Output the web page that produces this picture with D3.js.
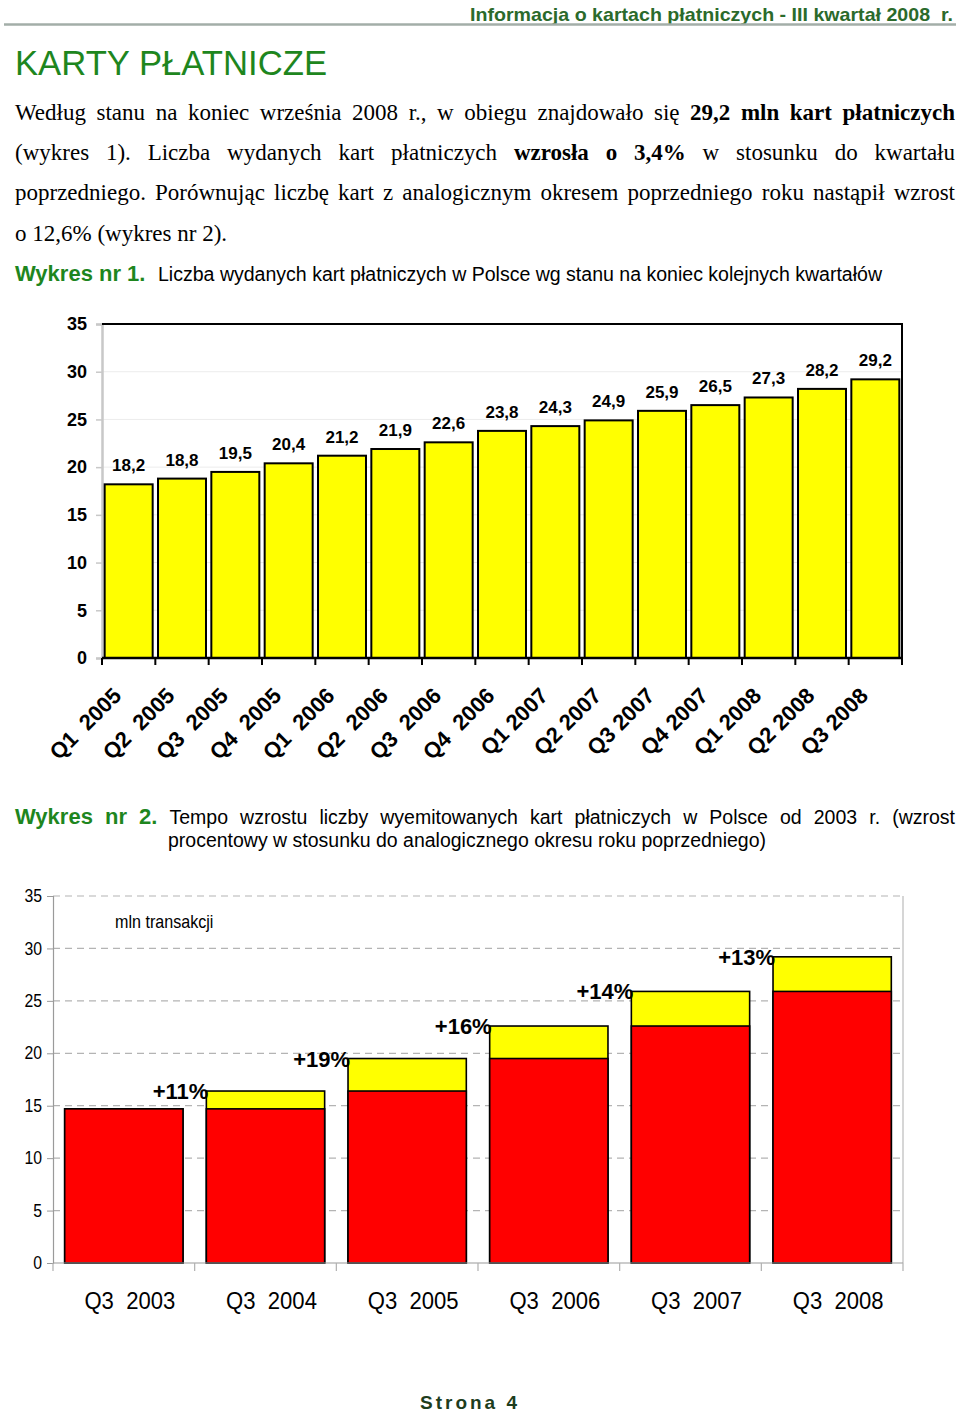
<!DOCTYPE html>
<html><head><meta charset="utf-8">
<script src="https://cdn.jsdelivr.net/npm/d3@7"></script>
<style>
html,body{margin:0;padding:0;background:#fff;}
svg{display:block;}
text{white-space:pre;}
</style></head>
<body>
<svg id="page" width="960" height="1417"></svg>
<script>
// ---- DATA ----
const quarters = ["Q1  2005","Q2  2005","Q3  2005","Q4  2005","Q1  2006","Q2  2006","Q3  2006","Q4  2006","Q1 2007","Q2 2007","Q3 2007","Q4 2007","Q1 2008","Q2 2008","Q3 2008"];
const cards = [18.2,18.8,19.5,20.4,21.2,21.9,22.6,23.8,24.3,24.9,25.9,26.5,27.3,28.2,29.2];
const cardLabels = ["18,2","18,8","19,5","20,4","21,2","21,9","22,6","23,8","24,3","24,9","25,9","26,5","27,3","28,2","29,2"];
const years2 = ["Q3  2003","Q3  2004","Q3  2005","Q3  2006","Q3  2007","Q3  2008"];
const prevTotal = [14.7,14.7,16.4,19.5,22.6,25.9];   // red part (previous year level)
const total2 = [14.7,16.4,19.5,22.6,25.9,29.2];      // bar top
const pctLabels = ["","+11%","+19%","+16%","+14%","+13%"];
const yTicks = [0,5,10,15,20,25,30,35];

const svg = d3.select("#page");
const SANS = "'Liberation Sans', Arial, sans-serif";
const SERIF = "'Liberation Serif','Times New Roman', serif";
const GREEN = "#1e861e";

function narrow(sel, f){
  sel.each(function(){ const w=this.getComputedTextLength(); d3.select(this).attr("textLength",w*f).attr("lengthAdjust","spacingAndGlyphs"); });
  return sel;
}
function fitW(sel, w){ return sel.attr("textLength",w).attr("lengthAdjust","spacingAndGlyphs"); }

// ---- header ----
fitW(svg.append("text").attr("x",953).attr("y",21).attr("text-anchor","end")
  .attr("font-family",SANS).attr("font-weight","bold").attr("font-size",19).attr("fill","#2b6a2b")
  .text("Informacja o kartach płatniczych - III kwartał 2008  r."),483);
svg.append("line").attr("x1",4).attr("x2",956).attr("y1",24.5).attr("y2",24.5).attr("stroke","#a3aea8").attr("stroke-width",2.5);
fitW(svg.append("text").attr("x",15).attr("y",75).attr("font-family",SANS).attr("font-size",35).attr("fill",GREEN)
  .text("KARTY PŁATNICZE"),312);

// ---- justified line helper ----
function justLine(segs, x0, x1, y, opts){
  const words=[];
  segs.forEach(s=>s.t.split(" ").filter(w=>w.length).forEach(w=>words.push({w, b:s.b, c:s.c, fs:s.fs, ff:s.ff})));
  const g=svg.append("g");
  const nodes=words.map(d=>g.append("text").attr("y",y).attr("font-family",d.ff||opts.ff).attr("font-size",d.fs||opts.fs)
     .attr("font-weight",d.b?"bold":"normal").attr("fill",d.c||"#000").text(d.w));
  const widths=nodes.map(n=>n.node().getComputedTextLength());
  const sum=d3.sum(widths);
  let gap = opts.justify ? (x1-x0-sum)/(words.length-1) : opts.space;
  let x=x0;
  nodes.forEach((n,i)=>{n.attr("x",x); x+=widths[i]+gap;});
}
const P={ff:SERIF, fs:23, justify:true};
justLine([{t:"Według stanu na koniec września 2008 r., w obiegu znajdowało się"},{t:"29,2 mln kart płatniczych",b:true}],15,955,120,P);
justLine([{t:"(wykres 1). Liczba wydanych kart płatniczych"},{t:"wzrosła o 3,4%",b:true},{t:"w stosunku do kwartału"}],15,955,160,P);
justLine([{t:"poprzedniego. Porównując liczbę kart z analogicznym okresem poprzedniego roku nastąpił wzrost"}],15,955,200,P);
justLine([{t:"o 12,6% (wykres nr 2)."}],15,955,241,{ff:SERIF,fs:23,justify:false,space:5.75});

svg.append("text").attr("x",15).attr("y",281).attr("font-family",SANS).attr("font-size",22).attr("font-weight","bold").attr("fill",GREEN).text("Wykres nr 1.");
fitW(svg.append("text").attr("x",158).attr("y",281).attr("font-family",SANS).attr("font-size",19.5).text("Liczba wydanych kart płatniczych w Polsce wg stanu na koniec kolejnych kwartałów"),724);

justLine([{t:"Wykres nr 2.",b:true,c:GREEN,fs:22,ff:SANS},{t:"Tempo wzrostu liczby wyemitowanych kart płatniczych w Polsce od 2003 r. (wzrost"}],15,955,824,{ff:SANS,fs:19.5,justify:true});
fitW(svg.append("text").attr("x",168).attr("y",847).attr("font-family",SANS).attr("font-size",19.5).text("procentowy w stosunku do analogicznego okresu roku poprzedniego)"),598);

// ---- Chart 1 ----
{
  const L=102,R=902,T=324,B=658;
  const x=d3.scaleBand().domain(quarters).range([L,R]).paddingInner(0.1).paddingOuter(0.05);
  const y=d3.scaleLinear().domain([0,35]).range([B,T]);
  const g=svg.append("g");
  g.selectAll(".grid").data(yTicks.filter(v=>v>0&&v<35)).join("line")
    .attr("x1",L).attr("x2",R).attr("y1",d=>y(d)).attr("y2",d=>y(d)).attr("stroke","#ececec").attr("stroke-width",1);
  const ya=g.append("g").attr("transform",`translate(${L},0)`)
    .call(d3.axisLeft(y).tickValues(yTicks).tickSize(6).tickPadding(9).tickFormat(d3.format("d")));
  ya.select(".domain").attr("stroke","#c8c8c8").attr("stroke-width",2.5);
  ya.selectAll(".tick line").attr("stroke","#c8c8c8").attr("stroke-width",1.5);
  ya.selectAll(".tick text").attr("font-family",SANS).attr("font-weight","bold").attr("font-size",18).attr("fill","#000");
  g.append("line").attr("x1",L).attr("x2",R+1).attr("y1",T).attr("y2",T).attr("stroke","#000").attr("stroke-width",2);
  g.append("line").attr("x1",R).attr("x2",R).attr("y1",T).attr("y2",B+7).attr("stroke","#000").attr("stroke-width",2);
  g.selectAll(".bar").data(cards).join("rect")
    .attr("x",(d,i)=>x(quarters[i])).attr("width",x.bandwidth())
    .attr("y",d=>y(d)).attr("height",d=>B-y(d))
    .attr("fill","#ffff00").attr("stroke","#000").attr("stroke-width",2);
  g.selectAll(".vl").data(cards).join("text")
    .attr("x",(d,i)=>x(quarters[i])+x.bandwidth()/2).attr("y",d=>y(d)-13)
    .attr("text-anchor","middle").attr("font-family",SANS).attr("font-weight","bold").attr("font-size",17)
    .text((d,i)=>cardLabels[i]);
  g.append("line").attr("x1",L).attr("x2",R+1).attr("y1",B).attr("y2",B).attr("stroke","#000").attr("stroke-width",2.5);
  const bounds=quarters.map(q=>x(q)-x.step()*x.paddingInner()/2).concat([R]);
  g.selectAll(".bt").data(bounds).join("line")
    .attr("x1",d=>d).attr("x2",d=>d).attr("y1",B).attr("y2",B+7).attr("stroke","#000").attr("stroke-width",2);
  g.selectAll(".xl").data(quarters).join("text")
    .attr("transform",d=>`translate(${x(d)+x.bandwidth()/2-6},${B+39}) rotate(-45)`)
    .attr("text-anchor","end").attr("font-family",SANS).attr("font-weight","bold").attr("font-size",22)
    .text(d=>d);
}

// ---- Chart 2 ----
{
  const L=53,R=903,T=896,B=1263;
  const x=d3.scaleBand().domain(years2).range([L,R]).paddingInner(0.165).paddingOuter(0.0825);
  const y=d3.scaleLinear().domain([0,35]).range([B,T]);
  const g=svg.append("g");
  g.selectAll(".grid").data(yTicks.filter(v=>v>0)).join("line")
    .attr("x1",L).attr("x2",R).attr("y1",d=>y(d)).attr("y2",d=>y(d))
    .attr("stroke","#b4b4b4").attr("stroke-width",1.2).attr("stroke-dasharray","7,5");
  g.append("line").attr("x1",R).attr("x2",R).attr("y1",T).attr("y2",B).attr("stroke","#c8c8c8").attr("stroke-width",1.5);
  const ya=g.append("g").attr("transform",`translate(${L},0)`)
    .call(d3.axisLeft(y).tickValues(yTicks).tickSize(6).tickPadding(5).tickFormat(d3.format("d")));
  ya.select(".domain").attr("stroke","#9a9a9a").attr("stroke-width",1.2);
  ya.selectAll(".tick line").attr("stroke","#9a9a9a");
  narrow(ya.selectAll(".tick text").attr("font-family",SANS).attr("font-size",17.5).attr("fill","#000"),0.9);
  g.selectAll(".yb").data(total2).join("rect")
    .attr("x",(d,i)=>x(years2[i])).attr("width",x.bandwidth())
    .attr("y",d=>y(d)).attr("height",d=>B-y(d))
    .attr("fill","#ffff00").attr("stroke","#000").attr("stroke-width",1.6);
  g.selectAll(".rb").data(prevTotal).join("rect")
    .attr("x",(d,i)=>x(years2[i])).attr("width",x.bandwidth())
    .attr("y",d=>y(d)).attr("height",d=>B-y(d))
    .attr("fill","#ff0000").attr("stroke","#000").attr("stroke-width",1.6);
  g.selectAll(".pl").data(total2).join("text")
    .attr("x",(d,i)=>x(years2[i])+2).attr("y",d=>y(d)+8)
    .attr("text-anchor","end").attr("font-family",SANS).attr("font-weight","bold").attr("font-size",22)
    .text((d,i)=>pctLabels[i]);
  g.append("line").attr("x1",L).attr("x2",R).attr("y1",B).attr("y2",B).attr("stroke","#9a9a9a").attr("stroke-width",1.2);
  const bounds=years2.map(q=>x(q)-x.step()*x.paddingInner()/2).concat([R]);
  g.selectAll(".bt").data(bounds).join("line")
    .attr("x1",d=>d).attr("x2",d=>d).attr("y1",B).attr("y2",B+8).attr("stroke","#b0b0b0").attr("stroke-width",1.2);
  narrow(g.selectAll(".xl").data(years2).join("text")
    .attr("x",d=>x(d)+x.bandwidth()/2+6).attr("y",B+46)
    .attr("text-anchor","middle").attr("font-family",SANS).attr("font-size",24)
    .text(d=>d),0.92);
  narrow(g.append("text").attr("x",115).attr("y",928).attr("font-family",SANS).attr("font-size",18.5).text("mln transakcji"),0.87);
}

// ---- footer ----
svg.append("text").attr("x",420).attr("y",1409).attr("font-family",SANS).attr("font-weight","bold")
  .attr("font-size",19).attr("letter-spacing",3).attr("fill","#1d3d1d").text("Strona 4");
</script>
</body></html>
